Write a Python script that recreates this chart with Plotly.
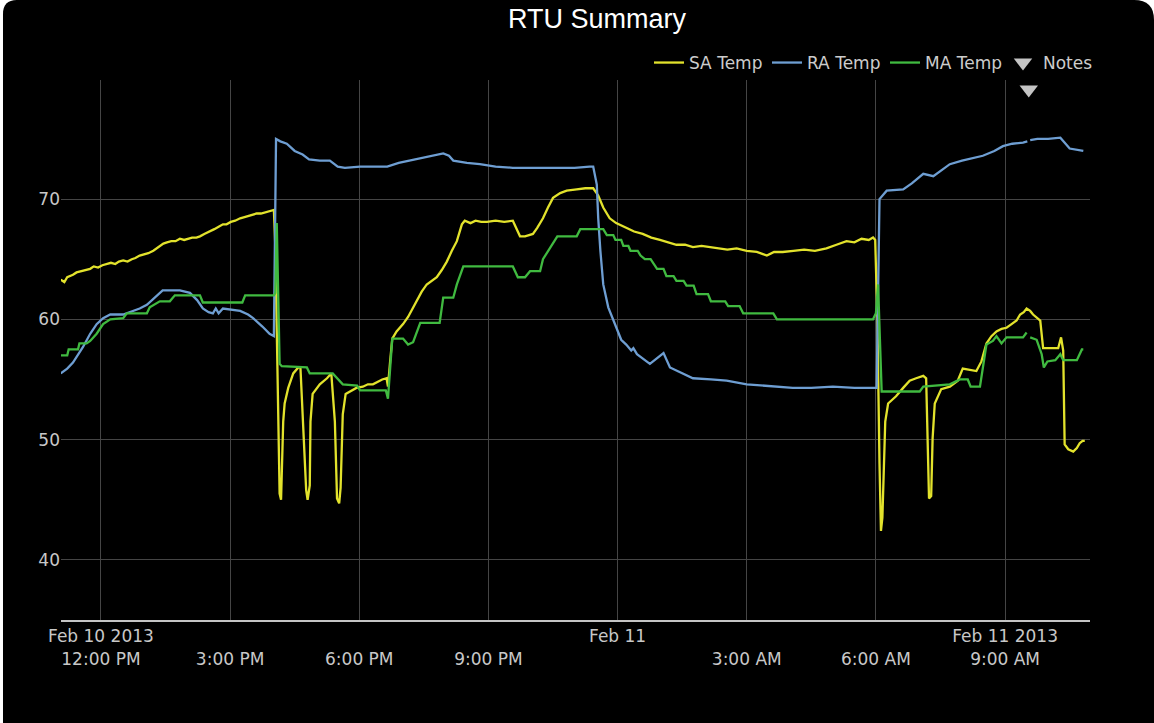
import pandas as pd
import plotly.graph_objects as go

# ---- data: RTU temperatures, Feb 10-11 2013 ("DD HH:MM" in February 2013) ----
sa_time = [
    "10 11:04", "10 11:09", "10 11:13", "10 11:21", "10 11:26", "10 11:33", "10 11:38", "10 11:45", "10 11:50", "10 11:56",
    "10 12:02", "10 12:08", "10 12:14", "10 12:20", "10 12:25", "10 12:31", "10 12:37", "10 12:43", "10 12:48", "10 12:54",
    "10 13:00", "10 13:06", "10 13:13", "10 13:18", "10 13:22", "10 13:27", "10 13:32", "10 13:38", "10 13:44", "10 13:50",
    "10 13:56", "10 14:01", "10 14:07", "10 14:13", "10 14:18", "10 14:24", "10 14:32", "10 14:38", "10 14:44", "10 14:50",
    "10 14:55", "10 15:01", "10 15:07", "10 15:14", "10 15:20", "10 15:26", "10 15:31", "10 15:37", "10 15:43", "10 15:49",
    "10 15:55", "10 16:01", "10 16:03", "10 16:05", "10 16:07", "10 16:09", "10 16:11", "10 16:14", "10 16:16", "10 16:21",
    "10 16:28", "10 16:35", "10 16:38", "10 16:41", "10 16:46", "10 16:48", "10 16:51", "10 16:52", "10 16:55", "10 17:05",
    "10 17:15", "10 17:21", "10 17:26", "10 17:29", "10 17:32", "10 17:34", "10 17:37", "10 17:41", "10 17:56", "10 18:05",
    "10 18:12", "10 18:19", "10 18:26", "10 18:32", "10 18:38", "10 18:40", "10 18:43", "10 18:46", "10 18:52", "10 19:01",
    "10 19:08", "10 19:14", "10 19:20", "10 19:27", "10 19:34", "10 19:41", "10 19:48", "10 19:55", "10 20:02", "10 20:09",
    "10 20:16", "10 20:23", "10 20:27", "10 20:35", "10 20:42", "10 20:50", "10 20:58", "10 21:10", "10 21:22", "10 21:34",
    "10 21:39", "10 21:44", "10 21:51", "10 21:58", "10 22:02", "10 22:08", "10 22:16", "10 22:23", "10 22:30", "10 22:40",
    "10 22:49", "10 23:03", "10 23:15", "10 23:26", "10 23:33", "10 23:40", "10 23:49", "10 23:58", "11 00:12", "11 00:23",
    "11 00:35", "11 00:47", "11 00:59", "11 01:10", "11 01:22", "11 01:34", "11 01:45", "11 01:57", "11 02:09", "11 02:21",
    "11 02:33", "11 02:46", "11 03:00", "11 03:14", "11 03:28", "11 03:38", "11 03:50", "11 04:05", "11 04:20", "11 04:35",
    "11 04:51", "11 05:05", "11 05:19", "11 05:30", "11 05:40", "11 05:50", "11 05:56", "11 05:59", "11 06:02", "11 06:05",
    "11 06:07", "11 06:09", "11 06:13", "11 06:17", "11 06:28", "11 06:38", "11 06:47", "11 06:56", "11 07:06", "11 07:10",
    "11 07:12", "11 07:14", "11 07:17", "11 07:19", "11 07:22", "11 07:31", "11 07:43", "11 07:54", "11 08:01", "11 08:10",
    "11 08:20", "11 08:27", "11 08:34", "11 08:41", "11 08:48", "11 08:55", "11 09:02", "11 09:09", "11 09:16", "11 09:21",
    "11 09:26", "11 09:30", "11 09:35", "11 09:39", "11 09:45", "11 09:49", "11 09:53", "11 10:00", "11 10:08", "11 10:14",
    "11 10:18", "11 10:21", "11 10:23", "11 10:28", "11 10:35", "11 10:40", "11 10:44", "11 10:48", "11 10:51",
]
sa_temp = [
    63.3, 63.1, 63.5, 63.7, 63.9, 64.0, 64.1, 64.2, 64.4, 64.3,
    64.5, 64.6, 64.7, 64.6, 64.8, 64.9, 64.8, 65.0, 65.1, 65.3,
    65.4, 65.5, 65.7, 65.9, 66.1, 66.3, 66.4, 66.5, 66.5, 66.7,
    66.6, 66.7, 66.8, 66.8, 66.9, 67.1, 67.3, 67.5, 67.7, 67.9,
    67.9, 68.1, 68.2, 68.4, 68.5, 68.6, 68.7, 68.8, 68.8, 68.9,
    69.0, 69.1, 66.0, 58.0, 50.0, 45.5, 45.0, 51.5, 53.0, 54.3,
    55.5, 56.0, 56.0, 52.5, 45.8, 45.0, 46.2, 51.5, 53.8, 54.6,
    55.1, 55.5, 51.5, 45.1, 44.7, 46.0, 52.1, 53.8, 54.3, 54.4,
    54.6, 54.6, 54.8, 55.0, 55.1, 54.4, 56.5, 58.4, 59.0, 59.6,
    60.2, 60.9, 61.5, 62.3, 62.9, 63.2, 63.5, 64.1, 64.8, 65.7,
    66.5, 67.9, 68.2, 68.0, 68.2, 68.1, 68.1, 68.2, 68.1, 68.2,
    67.6, 66.9, 66.9, 67.0, 67.1, 67.6, 68.4, 69.3, 70.1, 70.5,
    70.7, 70.8, 70.9, 70.9, 70.3, 69.3, 68.4, 68.0, 67.6, 67.3,
    67.1, 66.8, 66.6, 66.4, 66.2, 66.2, 66.0, 66.1, 66.0, 65.9,
    65.8, 65.9, 65.7, 65.6, 65.3, 65.6, 65.6, 65.7, 65.8, 65.7,
    65.9, 66.2, 66.5, 66.4, 66.7, 66.6, 66.8, 66.6, 60.0, 48.0,
    42.4, 43.5, 51.5, 53.0, 53.6, 54.3, 54.9, 55.1, 55.3, 55.1,
    50.0, 45.1, 45.3, 50.1, 53.0, 54.2, 54.4, 54.9, 55.9, 55.8,
    55.7, 56.5, 58.0, 58.6, 59.0, 59.2, 59.3, 59.6, 59.9, 60.4,
    60.6, 60.9, 60.7, 60.4, 60.1, 59.9, 57.6, 57.6, 57.6, 57.6,
    58.5, 57.4, 49.6, 49.2, 49.0, 49.3, 49.7, 49.9, 49.9,
]

ra_time = [
    "10 11:04", "10 11:13", "10 11:21", "10 11:28", "10 11:35", "10 11:45", "10 11:54", "10 12:03", "10 12:13", "10 12:31",
    "10 12:54", "10 13:04", "10 13:15", "10 13:26", "10 13:50", "10 14:04", "10 14:14", "10 14:22", "10 14:30", "10 14:36",
    "10 14:40", "10 14:44", "10 14:50", "10 15:00", "10 15:14", "10 15:25", "10 15:32", "10 15:45", "10 15:55", "10 16:01",
    "10 16:04", "10 16:10", "10 16:19", "10 16:30", "10 16:41", "10 16:50", "10 17:05", "10 17:19", "10 17:30", "10 17:40",
    "10 18:01", "10 18:20", "10 18:39", "10 18:55", "10 19:11", "10 19:30", "10 19:57", "10 20:05", "10 20:11", "10 20:30",
    "10 20:48", "10 21:10", "10 21:34", "10 22:00", "10 22:30", "10 23:00", "10 23:21", "10 23:26", "10 23:31", "10 23:33",
    "10 23:36", "10 23:40", "10 23:47", "10 23:58", "11 00:05", "11 00:12", "11 00:19", "11 00:22", "11 00:27", "11 00:45",
    "11 01:04", "11 01:13", "11 01:30", "11 01:45", "11 02:10", "11 02:32", "11 03:00", "11 03:18", "11 03:40", "11 04:04",
    "11 04:30", "11 05:00", "11 05:30", "11 05:56", "11 06:01", "11 06:05", "11 06:15", "11 06:38", "11 06:50", "11 07:06",
    "11 07:15", "11 07:20", "11 07:43", "11 08:00", "11 08:29", "11 08:45", "11 08:57", "11 09:10", "11 09:25", "11 09:31",
    "11 09:33", "11 09:35", "11 09:45", "11 10:00", "11 10:17", "11 10:30", "11 10:40", "11 10:49",
]
ra_temp = [
    55.5, 55.9, 56.4, 57.0, 57.7, 58.8, 59.6, 60.1, 60.4, 60.4,
    60.9, 61.2, 61.8, 62.4, 62.4, 62.2, 61.6, 60.9, 60.6, 60.5,
    60.9, 60.5, 60.9, 60.8, 60.7, 60.4, 60.1, 59.4, 58.8, 58.6,
    75.0, 74.8, 74.6, 74.0, 73.7, 73.3, 73.2, 73.2, 72.7, 72.6,
    72.7, 72.7, 72.7, 73.0, 73.2, 73.5, 73.8, 73.6, 73.2, 73.0,
    72.9, 72.7, 72.6, 72.6, 72.6, 72.6, 72.7, 72.7, 71.2, 68.4,
    65.7, 62.9, 61.0, 59.3, 58.3, 57.9, 57.4, 57.6, 57.1, 56.3,
    57.2, 56.0, 55.5, 55.1, 55.0, 54.9, 54.6, 54.5, 54.4, 54.3,
    54.3, 54.4, 54.3, 54.3, 54.3, 70.0, 70.7, 70.8, 71.3, 72.1,
    72.0, 71.9, 72.9, 73.2, 73.6, 74.0, 74.4, 74.6, 74.7, 74.8,
    None, 74.9, 75.0, 75.0, 75.1, 74.2, 74.1, 74.0,
]

ma_time = [
    "10 11:04", "10 11:13", "10 11:15", "10 11:28", "10 11:30", "10 11:40", "10 11:45", "10 11:54", "10 12:03", "10 12:13",
    "10 12:31", "10 12:36", "10 13:04", "10 13:08", "10 13:22", "10 13:36", "10 13:43", "10 14:18", "10 14:22", "10 15:17",
    "10 15:21", "10 16:01", "10 16:03", "10 16:05", "10 16:09", "10 16:12", "10 16:47", "10 16:51", "10 17:23", "10 17:37",
    "10 17:57", "10 18:01", "10 18:37", "10 18:40", "10 18:46", "10 19:01", "10 19:08", "10 19:15", "10 19:25", "10 19:52",
    "10 19:57", "10 20:11", "10 20:16", "10 20:25", "10 21:34", "10 21:41", "10 21:51", "10 21:58", "10 22:12", "10 22:16",
    "10 22:36", "10 23:03", "10 23:08", "10 23:31", "10 23:40", "10 23:45", "10 23:54", "10 23:57", "11 00:05", "11 00:08",
    "11 00:15", "11 00:18", "11 00:28", "11 00:32", "11 00:38", "11 00:46", "11 00:50", "11 00:55", "11 01:04", "11 01:08",
    "11 01:18", "11 01:22", "11 01:32", "11 01:36", "11 01:46", "11 01:50", "11 02:06", "11 02:10", "11 02:30", "11 02:34",
    "11 02:50", "11 02:55", "11 03:37", "11 03:42", "11 05:56", "11 06:00", "11 06:03", "11 06:08", "11 07:01", "11 07:06",
    "11 07:43", "11 07:57", "11 08:08", "11 08:12", "11 08:25", "11 08:30", "11 08:34", "11 08:43", "11 08:48", "11 08:55",
    "11 09:02", "11 09:25", "11 09:30", "11 09:32", "11 09:35", "11 09:44", "11 09:51", "11 09:54", "11 09:59", "11 10:10",
    "11 10:17", "11 10:21", "11 10:40", "11 10:47", "11 10:49",
]
ma_temp = [
    57.0, 57.0, 57.5, 57.5, 58.0, 58.0, 58.2, 58.8, 59.6, 60.0,
    60.1, 60.5, 60.5, 61.0, 61.5, 61.5, 62.0, 62.0, 61.4, 61.4,
    62.0, 62.0, 62.2, 68.0, 56.3, 56.1, 56.0, 55.5, 55.5, 54.6,
    54.5, 54.1, 54.1, 53.4, 58.4, 58.4, 57.9, 58.1, 59.7, 59.7,
    61.8, 61.8, 62.9, 64.4, 64.4, 63.5, 63.5, 64.0, 64.0, 65.0,
    66.9, 66.9, 67.5, 67.5, 67.5, 67.0, 67.0, 66.6, 66.6, 66.1,
    66.1, 65.7, 65.7, 65.3, 65.0, 65.0, 64.6, 64.2, 64.2, 63.6,
    63.6, 63.2, 63.2, 62.8, 62.8, 62.1, 62.1, 61.5, 61.5, 61.1,
    61.1, 60.5, 60.5, 60.0, 60.0, 60.5, 62.9, 54.0, 54.0, 54.4,
    54.6, 55.0, 55.0, 54.4, 54.4, 56.5, 57.9, 58.2, 58.6, 58.0,
    58.5, 58.5, 58.9, None, 58.5, 58.3, 57.1, 56.0, 56.5, 56.6,
    57.1, 56.6, 56.6, 57.5, 57.5,
]

note_time = ["11 09:33"]
note_level = [79.1]

tick_time = ["10 12:00", "10 15:00", "10 18:00", "10 21:00", "11 00:00",
             "11 03:00", "11 06:00", "11 09:00"]
tick_text = ["Feb 10 2013<br>12:00 PM", "\u00a0<br>3:00 PM", "\u00a0<br>6:00 PM",
             "\u00a0<br>9:00 PM", "Feb 11", "\u00a0<br>3:00 AM", "\u00a0<br>6:00 AM",
             "Feb 11 2013<br>9:00 AM"]
y_ticks = [40, 50, 60, 70]


def ts(values):
    return pd.to_datetime(["2013-02-" + s for s in values])


W, H = 1154, 723
ML, MR, MT, MB = 61, 64, 80, 103
PW, PH = W - ML - MR, H - MT - MB


def pp(x, y):
    """pixel position -> paper coordinates"""
    return f"{(x - ML) / PW:.5f},{(H - MB - y) / PH:.5f}"


card = (f"M{pp(3, H)} L{pp(3, 14)} Q{pp(3, 0)} {pp(17, 0)} L{pp(W - 20, 0)} "
        f"Q{pp(W, 0)} {pp(W, 20)} L{pp(W, H)} Z")

fig = go.Figure()
fig.add_trace(go.Scatter(x=ts(sa_time), y=sa_temp, name="SA Temp", mode="lines",
                         line=dict(color="#e2e22c", width=2.3), connectgaps=False))
fig.add_trace(go.Scatter(x=ts(ra_time), y=ra_temp, name="RA Temp", mode="lines",
                         line=dict(color="#6e9ed2", width=2.3), connectgaps=False))
fig.add_trace(go.Scatter(x=ts(ma_time), y=ma_temp, name="MA Temp", mode="lines",
                         line=dict(color="#40ba40", width=2.3), connectgaps=False))
fig.add_trace(go.Scatter(x=ts(note_time), y=note_level, name="Notes", mode="markers",
                         marker=dict(symbol="triangle-down", size=16, color="#c4c4c4",
                                     line=dict(width=0))))

tick_font = dict(family="DejaVu Sans", size=17, color="#c8c8c8")

fig.update_layout(
    width=W, height=H,
    margin=dict(l=ML, r=MR, t=MT, b=MB, pad=0),
    paper_bgcolor="#ffffff",
    plot_bgcolor="rgba(0,0,0,0)",
    shapes=[dict(type="path", xref="paper", yref="paper", path=card,
                 fillcolor="#000000", line=dict(width=0), layer="below")],
    title=dict(text="RTU Summary", x=597 / W, xanchor="center", y=1 - 19 / H,
               yanchor="middle", font=dict(family="Liberation Sans", size=27, color="#ffffff")),
    showlegend=True,
    legend=dict(orientation="h", x=(1121 - ML) / PW, xanchor="right",
                y=(H - MB - 63) / PH, yanchor="middle",
                font=dict(family="DejaVu Sans", size=17, color="#cccccc"),
                bgcolor="rgba(0,0,0,0)", itemwidth=30, traceorder="normal",
                entrywidth=73, entrywidthmode="pixels"),
    xaxis=dict(type="date",
               range=["2013-02-10 11:04:20", "2013-02-11 10:58:20"],
               tickmode="array", tickvals=ts(tick_time), ticktext=tick_text,
               showgrid=True, gridcolor="#454545", gridwidth=1,
               showline=True, linecolor="#c4c4c4", linewidth=2,
               ticks="", zeroline=False, tickfont=tick_font),
    yaxis=dict(range=[35, 79.9], tickmode="array", tickvals=y_ticks,
               showgrid=True, gridcolor="#454545", gridwidth=1,
               showline=False, ticks="", zeroline=False, tickfont=tick_font),
)

fig.write_html("out.html")
